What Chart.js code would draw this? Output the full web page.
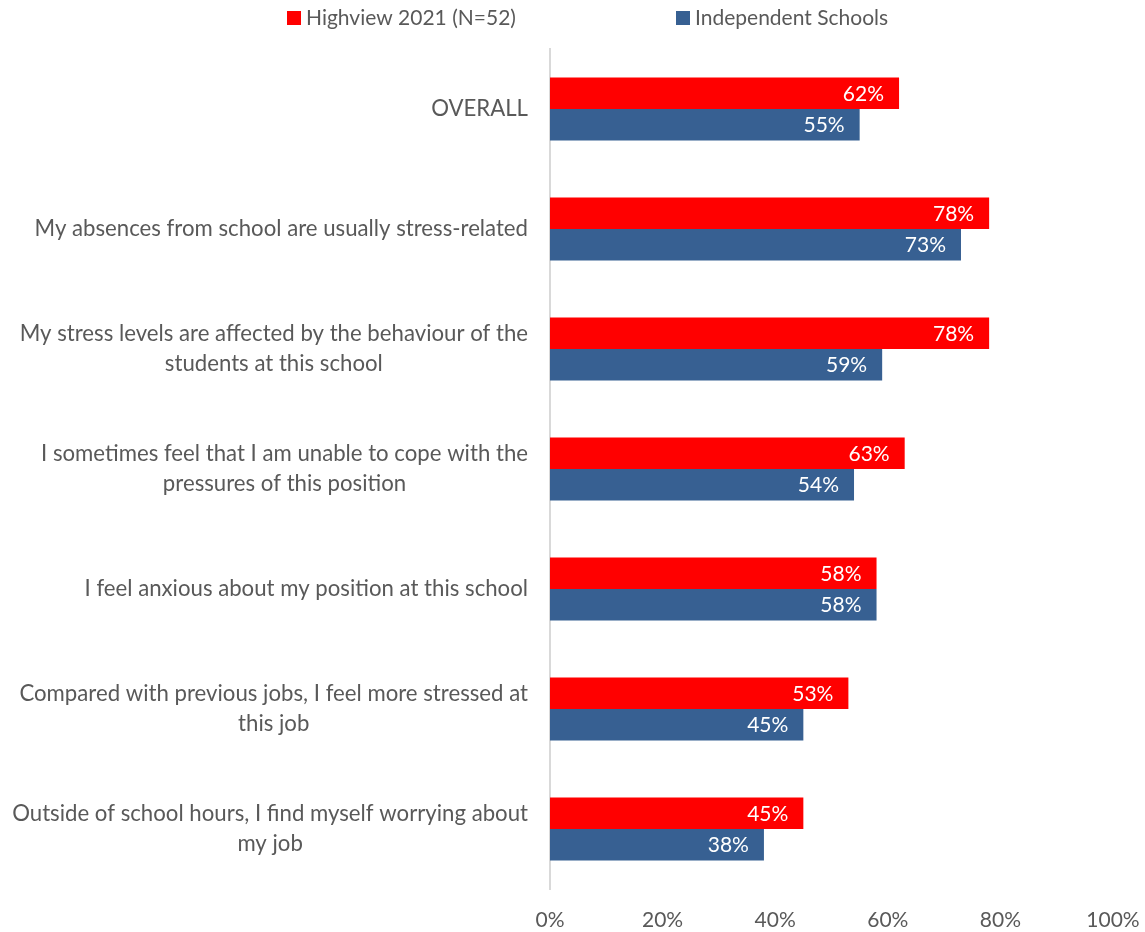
<!DOCTYPE html>
<html>
<head>
<meta charset="utf-8">
<script src="https://cdn.jsdelivr.net/npm/chart.js@4/dist/chart.umd.min.js"></script>
<style>
  html, body { margin: 0; padding: 0; background: #ffffff; }
  #wrap { width: 1145px; height: 932px; position: relative; }
</style>
</head>
<body>
<div id="wrap"><canvas id="chart"></canvas></div>
<script>
const categories = [
  ["OVERALL"],
  ["My absences from school are usually stress-related"],
  ["My stress levels are affected by the behaviour of the", "students at this school"],
  ["I sometimes feel that I am unable to cope with the", "pressures of this position"],
  ["I feel anxious about my position at this school"],
  ["Compared with previous jobs, I feel more stressed at", "this job"],
  ["Outside of school hours, I find myself worrying about", "my job"]
];
const seriesNames = ["Highview 2021 (N=52)", "Independent Schools"];
const highview = [62, 78, 78, 63, 58, 53, 45];
const independent = [55, 73, 59, 54, 58, 45, 38];
const xTicks = [0, 20, 40, 60, 80, 100];

const FONT = "Lato, 'Open Sans', sans-serif";
const TEXT_GREY = "#595959";
const RED = "#FF0000";
const BLUE = "#376092";

// Category labels: block right-aligned to the axis, lines centred within the block
const categoryLabels = {
  id: "categoryLabels",
  afterDraw(chart) {
    const ctx = chart.ctx;
    const y = chart.scales.y;
    const right = chart.chartArea.left - 22;
    const lineH = 30;
    ctx.save();
    ctx.font = "22.2px " + FONT;
    ctx.fillStyle = TEXT_GREY;
    ctx.textAlign = "center";
    ctx.textBaseline = "middle";
    categories.forEach((lines, i) => {
      const cy = y.getPixelForValue(i);
      const w = Math.max(...lines.map(l => ctx.measureText(l).width));
      const cx = right - w / 2;
      const y0 = cy - (lines.length - 1) * lineH / 2;
      lines.forEach((l, k) => ctx.fillText(l, cx, y0 + k * lineH));
    });
    ctx.restore();
  }
};

// White value labels inside the end of each bar
const valueLabels = {
  id: "valueLabels",
  afterDatasetsDraw(chart) {
    const ctx = chart.ctx;
    ctx.save();
    ctx.font = "21px " + FONT;
    ctx.fillStyle = "#ffffff";
    ctx.textAlign = "right";
    ctx.textBaseline = "middle";
    chart.data.datasets.forEach((ds, di) => {
      chart.getDatasetMeta(di).data.forEach((bar, i) => {
        ctx.fillText(ds.data[i] + "%", bar.x - 15, bar.y + 1);
      });
    });
    ctx.restore();
  }
};

// Legend row across the top
const topLegend = {
  id: "topLegend",
  afterDraw(chart) {
    const ctx = chart.ctx;
    const items = [
      { x: 287, color: RED, text: seriesNames[0] },
      { x: 676, color: BLUE, text: seriesNames[1] }
    ];
    ctx.save();
    ctx.font = "21px " + FONT;
    ctx.textAlign = "left";
    ctx.textBaseline = "middle";
    items.forEach(it => {
      ctx.fillStyle = it.color;
      ctx.fillRect(it.x, 11, 14, 14);
      ctx.fillStyle = TEXT_GREY;
      ctx.fillText(it.text, it.x + 19, 18);
    });
    ctx.restore();
  }
};

new Chart(document.getElementById("chart"), {
  type: "bar",
  data: {
    labels: categories.map(c => c.join(" ")),
    datasets: [
      { label: seriesNames[0], data: highview, backgroundColor: RED },
      { label: seriesNames[1], data: independent, backgroundColor: BLUE }
    ]
  },
  options: {
    indexAxis: "y",
    responsive: true,
    maintainAspectRatio: false,
    animation: false,
    categoryPercentage: 0.523,
    barPercentage: 1.0,
    layout: { padding: { top: 49, right: 32, bottom: 0, left: 0 } },
    plugins: {
      legend: { display: false },
      tooltip: { enabled: false }
    },
    scales: {
      x: {
        min: 0,
        max: 100,
        afterBuildTicks(scale) { scale.ticks = xTicks.map(v => ({ value: v })); },
        afterFit(scale) {
          scale.height = 43;
          scale.paddingLeft = 0;
          scale.paddingRight = 0;
        },
        grid: { display: false, drawTicks: false },
        border: { display: false },
        ticks: {
          padding: 19,
          color: TEXT_GREY,
          font: { family: FONT, size: 21 },
          callback: v => v + "%"
        }
      },
      y: {
        afterFit(scale) { scale.width = 550; },
        grid: { display: false, drawTicks: false },
        border: { display: true, color: "#D9D9D9", width: 2 },
        ticks: { display: false }
      }
    }
  },
  plugins: [categoryLabels, valueLabels, topLegend]
});
</script>
</body>
</html>
